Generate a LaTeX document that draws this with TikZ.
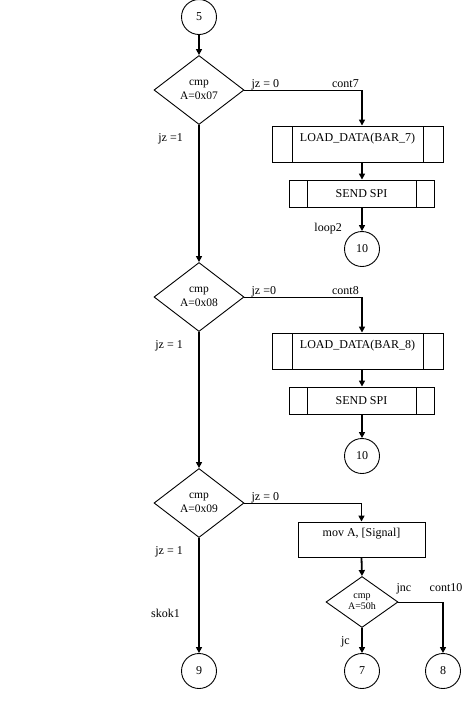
\documentclass[tikz,border=0pt]{standalone}
\usepackage{fontspec}
\setmainfont{Liberation Serif}
\usetikzlibrary{shapes.geometric}
\usetikzlibrary{arrows.meta}
\tikzset{decision/.style={draw, diamond, line width=0.9pt, inner sep=0pt,
           minimum width=90pt, minimum height=69pt, align=center,
           font=\fontsize{11.5}{13.5}\selectfont},
         subproc/.style={draw, rectangle, line width=0.9pt, inner sep=0pt,
           path picture={
             \draw[line width=0.9pt] ([xshift=#1]path picture bounding box.north west)
               -- ([xshift=#1]path picture bounding box.south west);
             \draw[line width=0.9pt] ([xshift=-#1]path picture bounding box.north east)
               -- ([xshift=-#1]path picture bounding box.south east);}},
         procbox/.style={draw, rectangle, line width=0.9pt, inner sep=0pt},
         toptext/.style={text height=9pt, text depth=15pt},
         connector/.style={draw, circle, line width=0.9pt, inner sep=0pt, minimum size=35pt},
         flow/.style={line width=1.8pt, -{Triangle[width=6pt,length=6pt]}},
         branch/.style={line width=0.9pt},
         lbl/.style={inner sep=0pt}}

\begin{document}
\begin{tikzpicture}[x=1pt, y=-1pt, font=\fontsize{12}{14}\selectfont]
\useasboundingbox (0,0) rectangle (468,710);
% Einstieg:
\node[connector] (p5) at (199,17) {5};
% die beiden gleichen Abfragen 0x07 und 0x08:
\foreach \n/\y/\lz/\lo in {7/90/{jz = 0}/{jz =1}, 8/297/{jz =0}/{jz = 1}} {
  \node[decision] (d\n) at (199,\y) {cmp\\A=0x0\n};
  \node[subproc=20pt, minimum width=171pt, minimum height=36pt, toptext] (ld\n) at (357.5,{\y+54}) {LOAD\_DATA(BAR\_\n)};
  \node[subproc=18pt, minimum width=145pt, minimum height=27pt] (ss\n) at (361.5,{\y+103.5}) {SEND SPI};
  \node[connector] (l\n) at (362,{\y+159}) {10};
  \coordinate (t\n) at (d\n.east -| l\n.north);
  \draw[branch] (d\n.east) -- (t\n);
  \draw[flow] (t\n) -- (ld\n.north -| l\n.north);
  \draw[flow] (ld\n.south -| l\n.north) -- (ss\n.north -| l\n.north);
  \draw[flow] (ss\n.south -| l\n.north) -- (l\n.north);
  \node[lbl, anchor=base west] at ([xshift=7pt,yshift=3pt]d\n.east) {\lz};
  \node[lbl, anchor=base east] at ([xshift=-3pt,yshift=3pt]t\n) {cont\n};
  \node[lbl, anchor=base east] at ([xshift=-16pt,yshift=-17pt]d\n.south) {\lo};
}
\node[lbl, anchor=base east] at ([xshift=-20pt]l7.north) {loop2};
% letzte Abfrage 0x09:
\node[decision] (d9) at (199,503) {cmp\\A=0x09};
\node[procbox, minimum width=127pt, minimum height=35pt, toptext] (mv) at (361.5,539.5) {mov A, [Signal]};
\node[decision, minimum width=72pt, minimum height=51pt, font=\fontsize{10}{11}\selectfont] (sd) at (362,602) {cmp\\A=50h};
\node[connector] (p9) at (199,671) {9};
\node[connector] (p7) at (362,671) {7};
\node[connector] (p8) at (443,671) {8};
\coordinate (t9) at (d9.east -| mv.north);
\coordinate (t10) at (sd.east -| p8.north);
\draw[flow] (p5.south) -- (d7.north);
\draw[flow] (d7.south) -- (d8.north);
\draw[flow] (d8.south) -- (d9.north);
\draw[flow] (d9.south) -- (p9.north);
\draw[branch] (d9.east) -- (t9);
\draw[flow] (t9) -- (mv.north);
\draw[flow] (mv.south) -- (sd.north);
\draw[flow] (sd.south) -- (p7.north);
\draw[branch] (sd.east) -- (t10);
\draw[flow] (t10) -- (p8.north);
\node[lbl, anchor=base west] at ([xshift=7pt,yshift=3pt]d9.east) {jz = 0};
\node[lbl, anchor=base east] at ([xshift=-16pt,yshift=-17pt]d9.south) {jz = 1};
\node[lbl, anchor=base east] at ([xshift=-19pt,yshift=-80pt]d9.south) {skok1};
\node[lbl, anchor=base west] at ([xshift=-2pt,yshift=11pt]sd.east) {jnc};
\node[lbl, anchor=base] at ([xshift=3pt,yshift=11pt]t10) {cont10};
\node[lbl, anchor=base east] at ([xshift=-12pt,yshift=-17pt]sd.south) {jc};
\end{tikzpicture}
\end{document}
